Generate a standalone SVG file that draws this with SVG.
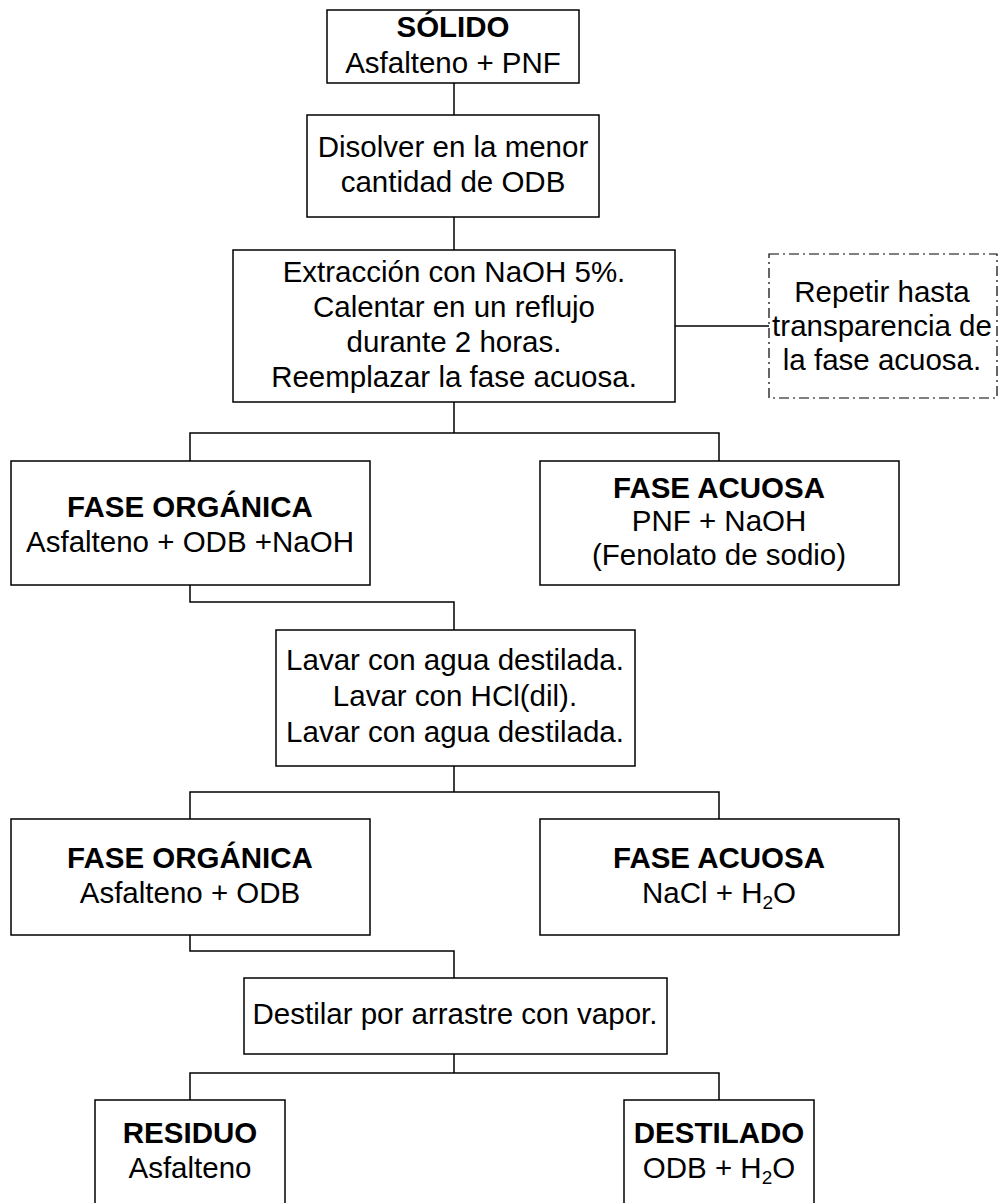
<svg xmlns="http://www.w3.org/2000/svg" width="1000" height="1203" viewBox="0 0 1000 1203">
<style>
  .box { fill: #ffffff; stroke: #000000; stroke-width: 1.5; }
  .dash { fill: #ffffff; stroke: #000000; stroke-width: 1.2; stroke-dasharray: 10 4 2 4; }
  .conn { fill: none; stroke: #000000; stroke-width: 1.5; }
  text { font-family: "Liberation Sans", Arial, sans-serif; font-size: 29.5px; fill: #000000; text-anchor: middle; }
  .b { font-weight: bold; }
  .sub { font-size: 19px; }
</style>
<rect x="0" y="0" width="1000" height="1203" fill="#ffffff"/>
<g id="connectors">
  <path class="conn" d="M454,83 V115"/>
  <path class="conn" d="M454,217 V250"/>
  <path class="conn" d="M675,326 H769"/>
  <path class="conn" d="M454,402 V433 M190,461 V433 H719 V461"/>
  <path class="conn" d="M190,585 V602 H454 V630"/>
  <path class="conn" d="M454,766 V792 M190,819 V792 H719 V819"/>
  <path class="conn" d="M190,935 V951 H454 V978"/>
  <path class="conn" d="M454,1054 V1073 M190,1100 V1073 H719 V1100"/>
</g>
<g id="solido">
  <rect class="box" x="327" y="10" width="252" height="73"/>
  <text x="453" y="37" class="b">SÓLIDO</text>
  <text x="453" y="73">Asfalteno + PNF</text>
</g>
<g id="disolver">
  <rect class="box" x="307" y="115" width="292" height="102"/>
  <text x="453" y="157">Disolver en la menor</text>
  <text x="453" y="192">cantidad de ODB</text>
</g>
<g id="extraccion">
  <rect class="box" x="233" y="250" width="442" height="152"/>
  <text x="454" y="282">Extracción con NaOH 5%.</text>
  <text x="454" y="317">Calentar en un reflujo</text>
  <text x="454" y="352">durante 2 horas.</text>
  <text x="454" y="387">Reemplazar la fase acuosa.</text>
</g>
<g id="repetir">
  <rect class="dash" x="769" y="254" width="228" height="144"/>
  <text x="882" y="302">Repetir hasta</text>
  <text x="882" y="336">transparencia de</text>
  <text x="882" y="370">la fase acuosa.</text>
</g>
<g id="organica1">
  <rect class="box" x="11" y="461" width="359" height="124"/>
  <text x="190" y="517" class="b">FASE ORGÁNICA</text>
  <text x="190" y="552">Asfalteno + ODB +NaOH</text>
</g>
<g id="acuosa1">
  <rect class="box" x="540" y="461" width="359" height="124"/>
  <text x="719" y="498" class="b">FASE ACUOSA</text>
  <text x="719" y="531">PNF + NaOH</text>
  <text x="719" y="565">(Fenolato de sodio)</text>
</g>
<g id="lavar">
  <rect class="box" x="276" y="630" width="359" height="136"/>
  <text x="455" y="670">Lavar con agua destilada.</text>
  <text x="455" y="706">Lavar con HCl(dil).</text>
  <text x="455" y="742">Lavar con agua destilada.</text>
</g>
<g id="organica2">
  <rect class="box" x="11" y="819" width="359" height="116"/>
  <text x="190" y="868" class="b">FASE ORGÁNICA</text>
  <text x="190" y="903">Asfalteno + ODB</text>
</g>
<g id="acuosa2">
  <rect class="box" x="540" y="819" width="359" height="116"/>
  <text x="719" y="868" class="b">FASE ACUOSA</text>
  <text x="719" y="903">NaCl + H<tspan class="sub" dy="6">2</tspan><tspan dy="-6">O</tspan></text>
</g>
<g id="destilar">
  <rect class="box" x="244" y="978" width="423" height="76"/>
  <text x="455" y="1024">Destilar por arrastre con vapor.</text>
</g>
<g id="residuo">
  <rect class="box" x="95" y="1100" width="190" height="110"/>
  <text x="190" y="1143" class="b">RESIDUO</text>
  <text x="190" y="1178">Asfalteno</text>
</g>
<g id="destilado">
  <rect class="box" x="624" y="1100" width="190" height="110"/>
  <text x="719" y="1143" class="b">DESTILADO</text>
  <text x="719" y="1178">ODB + H<tspan class="sub" dy="6">2</tspan><tspan dy="-6">O</tspan></text>
</g>
</svg>
